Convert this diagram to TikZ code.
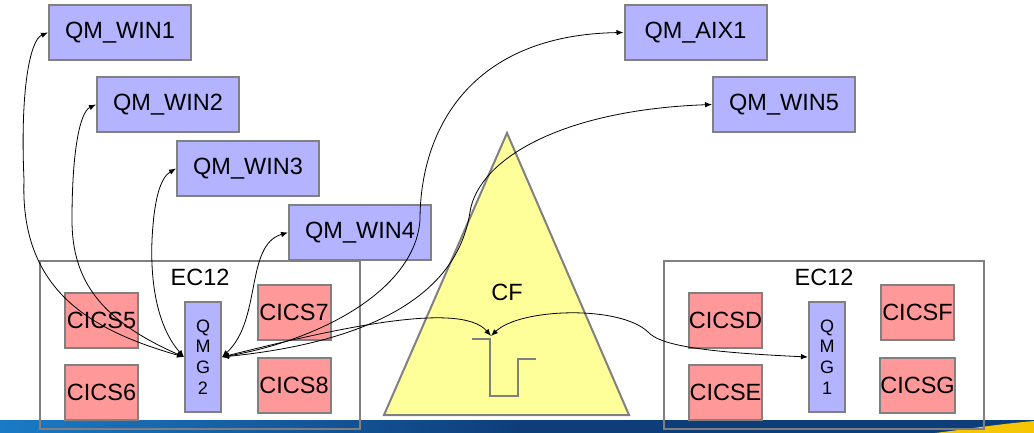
\documentclass[tikz,border=0pt]{standalone}
\usepackage{fontspec}
\setmainfont{Liberation Sans}
\usetikzlibrary{arrows.meta,positioning}

\definecolor{qmblue}{RGB}{179,179,255}
\definecolor{cicsred}{RGB}{255,153,153}
\definecolor{cfyellow}{RGB}{255,255,153}
\definecolor{edgegray}{RGB}{128,128,128}
\definecolor{bandlight}{RGB}{26,122,198}
\definecolor{banddark}{RGB}{14,62,122}
\definecolor{swoosh}{RGB}{246,198,0}

\begin{document}
\begin{tikzpicture}[x=1pt,y=-1pt,
    qm/.style={draw=edgegray, line width=2pt, fill=qmblue, minimum width=142pt, minimum height=55pt, inner sep=0pt, font=\fontsize{23.5}{28}\selectfont},
    cics/.style={draw=edgegray, line width=2pt, fill=cicsred, minimum width=73pt, minimum height=55pt, inner sep=0pt, font=\fontsize{23.5}{28}\selectfont},
    qmgr/.style={draw=edgegray, line width=2pt, fill=qmblue, minimum width=36pt, minimum height=110pt, inner sep=0pt, align=center, font=\fontsize{18}{20.7}\selectfont},
    lpar/.style={draw=edgegray, line width=2pt, minimum width=320pt, minimum height=168pt, inner sep=0pt},
    lbl/.style={font=\fontsize{23.5}{28}\selectfont, inner sep=0pt},
    link/.style={black, line width=0.8pt, {Latex[length=7pt,width=5.5pt]}-{Latex[length=7pt,width=5.5pt]}}]
        \useasboundingbox (0,0) rectangle (1034,433);

        % footer band
        \shade[left color=bandlight, right color=banddark] (0,420) rectangle (520,433);
        \fill[banddark] (519,420) rectangle (1034,433);
        \fill[swoosh] (935,433) .. controls (975,428) and (1000,424) .. (1034,421) -- (1034,433) -- cycle;

        % the two EC12 boxes
        \node[lpar] (ecleft) at (200,345) {};
        \node[lpar] (ecright) at (824,345) {};
        \node[lbl, below=9pt of ecleft.north] (ecleftlbl) {EC12};
        \node[lbl, below=9pt of ecright.north] (ecrightlbl) {EC12};

        % coupling facility
        \draw[edgegray, line width=2pt, fill=cfyellow] (507,133) -- (629,415) -- (384,415) -- cycle;
        \node[lbl] (cf) at (507,292) {CF};
        \draw[edgegray, line width=2pt] (472,339) -- (490,339) -- (490,396) -- (518,396) -- (518,359) -- (536,359);
        \coordinate (cfport) at (491,336);

        \node[qm] (win1) at (120,32.5) {QM\_WIN1};
        \node[qm] (win2) at (168,104.5) {QM\_WIN2};
        \node[qm] (win3) at (248,168.5) {QM\_WIN3};
        \node[qm] (win4) at (360,232.5) {QM\_WIN4};
        \node[qm] (aix1) at (695.5,32.5) {QM\_AIX1};
        \node[qm] (win5) at (784,104.5) {QM\_WIN5};

        \node[cics] (cics5) at (101.5,320.5) {CICS5};
        \node[cics] (cics6) at (101.5,392.5) {CICS6};
        \node[qmgr] (qmg2) at (203,357) {Q\\M\\G\\2};
        \node[cics] (cics7) at (294,312) {CICS7};
        \node[cics] (cics8) at (294,385) {CICS8};

        \node[cics] (cicsd) at (725.5,320.5) {CICSD};
        \node[cics] (cicse) at (725.5,392.5) {CICSE};
        \node[qmgr] (qmg1) at (827,357) {Q\\M\\G\\1};
        \node[cics] (cicsf) at (917.5,312.5) {CICSF};
        \node[cics] (cicsg) at (917.5,385) {CICSG};

        % channels out of QMG2
        \draw[link] (qmg2.west) .. controls (90,330) and (20,290) .. (24,180) .. controls (20,90) and (30,40) .. (win1.west);
        \draw[link] (qmg2.west) .. controls (100,320) and (72,280) .. (72,220) .. controls (72,150) and (80,112) .. (win2.west);
        \draw[link] (qmg2.west) .. controls (160,330) and (150,290) .. (152,240) .. controls (154,200) and (160,178) .. (win3.west);
        \draw[link] (qmg2.east) .. controls (262,320) and (245,245) .. (win4.west);
        \draw[link] (qmg2.east) .. controls (320,340) and (415,290) .. (420,220) .. controls (420,130) and (470,35) .. (aix1.west);
        \draw[link] (qmg2.east) .. controls (340,345) and (455,310) .. (470,212) .. controls (478,160) and (560,110) .. (win5.west);
        \draw[link] (qmg2.east) .. controls (330,330) and (460,300) .. (cfport);
        \draw[link] (cfport) .. controls (520,308) and (620,305) .. (648,332) .. controls (660,345) and (700,352) .. (qmg1.west);
      \end{tikzpicture}
\end{document}
